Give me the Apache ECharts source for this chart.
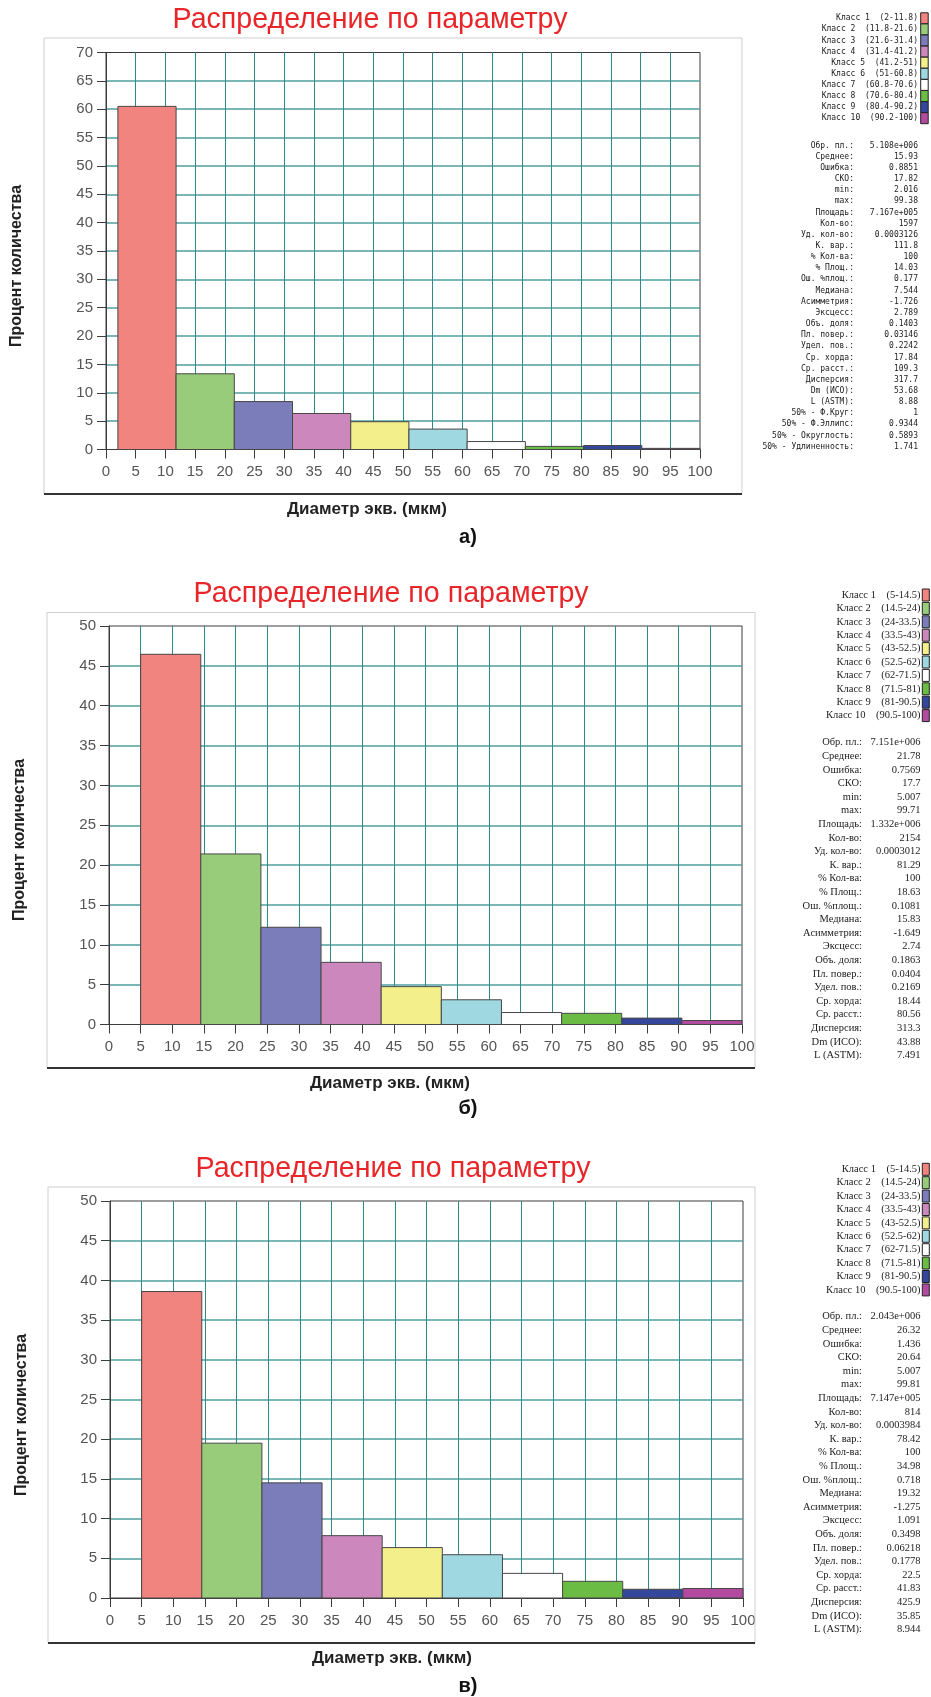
<!DOCTYPE html>
<html><head><meta charset="utf-8">
<script src="https://cdn.jsdelivr.net/npm/echarts@6/dist/echarts.min.js"></script>
<style>html,body{margin:0;padding:0;background:#fff}#c{width:931px;height:1697px}</style>
</head><body><div id="c"></div><script>
// ---- data ----
const classColors = ['#f28480','#98cc7b','#7b7cba','#cc88bd','#f3ef8b','#9fd8e1','#ffffff','#6bbc44','#34479a','#b24ba0'];
const edgesA  = [2, 11.8, 21.6, 31.4, 41.2, 51, 60.8, 70.6, 80.4, 90.2, 100];
const valuesA = [60.5, 13.35, 8.45, 6.35, 4.9, 3.6, 1.4, 0.55, 0.7, 0.2];
const edgesB  = [5, 14.5, 24, 33.5, 43, 52.5, 62, 71.5, 81, 90.5, 100];
const valuesB = [46.45, 21.4, 12.2, 7.8, 4.75, 3.1, 1.5, 1.4, 0.8, 0.5];
const edgesC  = [5, 14.5, 24, 33.5, 43, 52.5, 62, 71.5, 81, 90.5, 100];
const valuesC = [38.6, 19.5, 14.5, 7.85, 6.35, 5.45, 3.1, 2.1, 1.1, 1.2];
const yMaxA = 70, yMaxB = 50, yMaxC = 50;
const titleText = 'Распределение по параметру';
const xName = 'Диаметр экв. (мкм)';
const yName = 'Процент количества';
const panelLabels = ['а)', 'б)', 'в)'];

const statLabelsA = ['Обр. пл.:','Среднее:','Ошибка:','СКО:','min:','max:','Площадь:','Кол-во:','Уд. кол-во:','К. вар.:','% Кол-ва:','% Площ.:','Ош. %площ.:','Медиана:','Асимметрия:','Эксцесс:','Объ. доля:','Пл. повер.:','Удел. пов.:','Ср. хорда:','Ср. расст.:','Дисперсия:','Dm (ИСО):','L (ASTM):','50% - Ф.Круг:','50% - Ф.Эллипс:','50% - Округлость:','50% - Удлиненность:'];
const statValuesA = ['5.108e+006','15.93','0.8851','17.82','2.016','99.38','7.167e+005','1597','0.0003126','111.8','100','14.03','0.177','7.544','-1.726','2.789','0.1403','0.03146','0.2242','17.84','109.3','317.7','53.68','8.88','1','0.9344','0.5893','1.741'];
const statLabelsB = statLabelsA.slice(0, 24);
const statValuesB = ['7.151e+006','21.78','0.7569','17.7','5.007','99.71','1.332e+006','2154','0.0003012','81.29','100','18.63','0.1081','15.83','-1.649','2.74','0.1863','0.0404','0.2169','18.44','80.56','313.3','43.88','7.491'];
const statLabelsC = statLabelsA.slice(0, 24);
const statValuesC = ['2.043e+006','26.32','1.436','20.64','5.007','99.81','7.147e+005','814','0.0003984','78.42','100','34.98','0.718','19.32','-1.275','1.091','0.3498','0.06218','0.1778','22.5','41.83','425.9','35.85','8.944'];

// ---- layout ----
const panels = [
  {edges: edgesA, values: valuesA, ymax: yMaxA, statL: statLabelsA, statV: statValuesA,
   grid: {left: 106, top: 52.5, width: 594, height: 397},
   frame: [44, 38, 742, 494], titleXY: [370, 20], xNameXY: [367, 509], yNameXY: [17, 266], labXY: [468, 537],
   legY: 18.3, legStep: 11.1, statY: 145.6, statStep: 11.15, labelRight: 854, valueRight: 918, legRight: 918,
   swX: 920.7, swW: 7.5, swH: 11, font: "8px 'DejaVu Sans Mono', 'Liberation Mono', monospace", gap: '  '},
  {edges: edgesB, values: valuesB, ymax: yMaxB, statL: statLabelsB, statV: statValuesB,
   grid: {left: 109, top: 626, width: 633, height: 398.5},
   frame: [47, 612.5, 755, 1068], titleXY: [391, 594], xNameXY: [390, 1083], yNameXY: [20, 840], labXY: [468, 1108],
   legY: 595, legStep: 13.4, statY: 742.7, statStep: 13.6, labelRight: 862, valueRight: 920.5, legRight: 920.5,
   swX: 922.3, swW: 7, swH: 12, font: "10.5px 'Liberation Serif', 'DejaVu Serif', serif", gap: '    '},
  {edges: edgesC, values: valuesC, ymax: yMaxC, statL: statLabelsC, statV: statValuesC,
   grid: {left: 110, top: 1201, width: 633, height: 397},
   frame: [48, 1187, 755, 1643], titleXY: [393, 1169], xNameXY: [392, 1658], yNameXY: [22, 1415], labXY: [468, 1686],
   legY: 1169.3, legStep: 13.4, statY: 1316.7, statStep: 13.6, labelRight: 862, valueRight: 920.5, legRight: 920.5,
   swX: 922.3, swW: 7, swH: 12, font: "10.5px 'Liberation Serif', 'DejaVu Serif', serif", gap: '    '}
];

const narrow = "'Liberation Sans Narrow', 'Liberation Sans', Arial, sans-serif";
const grids = [], xAxes = [], yAxes = [], series = [], graphics = [];

function renderBin(params, api) {
  const x0 = api.value(0), x1 = api.value(1), v = api.value(2);
  const p0 = api.coord([x0, v]);
  const p1 = api.coord([x1, 0]);
  return {
    type: 'rect',
    shape: {x: p0[0], y: p0[1], width: p1[0] - p0[0], height: p1[1] - p0[1]},
    style: {fill: classColors[params.dataIndex], stroke: '#474747', lineWidth: 1}
  };
}

function txt(text, x, y, font, fill, align, valign, extra) {
  return Object.assign({
    type: 'text', silent: true, z: 50,
    style: {text: text, x: x, y: y, font: font, fill: fill,
            align: align, verticalAlign: valign, textAlign: align, textVerticalAlign: valign}
  }, extra || {});
}

panels.forEach((p, i) => {
  grids.push(Object.assign({show: true, backgroundColor: '#fff', borderColor: '#3c3c3c', borderWidth: 1}, p.grid));
  xAxes.push({
    type: 'value', gridIndex: i, min: 0, max: 100, interval: 5,
    axisLine: {show: true, lineStyle: {color: '#3c3c3c', width: 1}},
    axisTick: {show: true, length: 9, lineStyle: {color: '#3c3c3c'}},
    axisLabel: {color: '#555', fontSize: 15, fontFamily: narrow, margin: 15},
    splitLine: {show: true, showMinLine: false, showMaxLine: false, lineStyle: {color: '#2b8b8b', width: 1}}
  });
  yAxes.push({
    type: 'value', gridIndex: i, min: 0, max: p.ymax, interval: 5,
    axisLine: {show: true, lineStyle: {color: '#3c3c3c', width: 1}},
    axisTick: {show: true, length: 9, lineStyle: {color: '#3c3c3c'}},
    axisLabel: {color: '#555', fontSize: 15, fontFamily: narrow, margin: 13},
    splitLine: {show: true, showMinLine: false, showMaxLine: false, lineStyle: {color: '#4f9f9f', width: 1.6}}
  });
  const data = p.values.map((v, k) => [p.edges[k], p.edges[k + 1], v]);
  series.push({
    type: 'custom', xAxisIndex: i, yAxisIndex: i, renderItem: renderBin,
    encode: {x: [0, 1], y: 2}, data: data, z: 10, silent: true
  });

  // frame
  const [fx0, fy0, fx1, fy1] = p.frame;
  graphics.push({type: 'rect', silent: true, z: 1, shape: {x: fx0, y: fy0, width: fx1 - fx0, height: fy1 - fy0},
    style: {fill: 'none', stroke: '#cfcfcf', lineWidth: 1}});
  graphics.push({type: 'line', silent: true, z: 2, shape: {x1: fx0, y1: fy1, x2: fx1, y2: fy1},
    style: {stroke: '#333', lineWidth: 2}});

  // titles
  graphics.push(txt(titleText, p.titleXY[0], p.titleXY[1], "28.6px 'Liberation Sans', Arial, sans-serif", '#e8262a', 'center', 'middle'));
  graphics.push(txt(xName, p.xNameXY[0], p.xNameXY[1], "bold 17px " + narrow, '#222', 'center', 'middle'));
  graphics.push(txt(yName, 0, 0, "bold 16px 'Liberation Sans', Arial, sans-serif", '#222', 'center', 'middle',
    {x: p.yNameXY[0], y: p.yNameXY[1], rotation: Math.PI / 2}));
  graphics.push(txt(panelLabels[i], p.labXY[0], p.labXY[1], "bold 20px 'Liberation Sans', Arial, sans-serif", '#111', 'center', 'middle'));

  // legend
  for (let k = 0; k < 10; k++) {
    const y = p.legY + k * p.legStep;
    graphics.push(txt('Класс ' + (k + 1) + p.gap + '(' + p.edges[k] + '-' + p.edges[k + 1] + ')',
      p.legRight, y, p.font, '#222', 'right', 'middle'));
    graphics.push({type: 'rect', silent: true, z: 50,
      shape: {x: p.swX, y: y - p.swH / 2, width: p.swW, height: p.swH},
      style: {fill: classColors[k], stroke: '#222', lineWidth: 1}});
  }
  // stats
  p.statL.forEach((lab, k) => {
    const y = p.statY + k * p.statStep;
    graphics.push(txt(lab, p.labelRight, y, p.font, '#222', 'right', 'middle'));
    graphics.push(txt(p.statV[k], p.valueRight, y, p.font, '#222', 'right', 'middle'));
  });
});

const chart = echarts.init(document.getElementById('c'), null, {renderer: 'canvas'});
chart.setOption({
  animation: false,
  backgroundColor: '#fff',
  grid: grids, xAxis: xAxes, yAxis: yAxes, series: series,
  graphic: {elements: graphics}
});
</script></body></html>
